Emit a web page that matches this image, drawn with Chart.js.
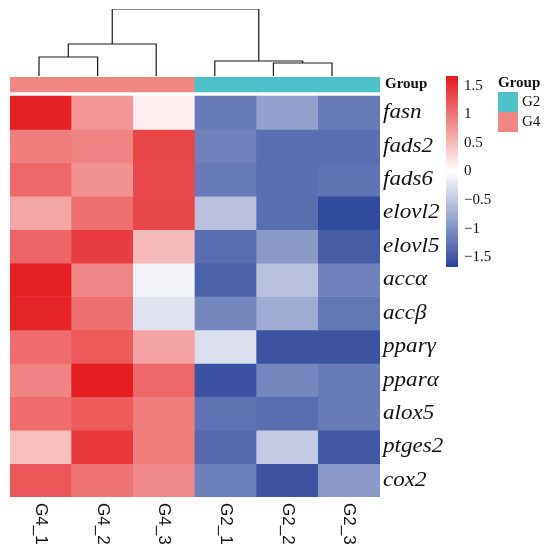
<!DOCTYPE html>
<html>
<head>
<meta charset="utf-8">
<script src="https://cdn.jsdelivr.net/npm/chart.js@4.4.1/dist/chart.umd.min.js"></script>
<style>
  html, body { margin: 0; padding: 0; background: #fff; }
  canvas { display: block; }
</style>
</head>
<body>
<canvas id="heatmap" width="550" height="557"></canvas>
<script>
// samples in dendrogram order, with their group
const samples = ['G4_1', 'G4_2', 'G4_3', 'G2_1', 'G2_2', 'G2_3'];
const sampleGroups = ['G4', 'G4', 'G4', 'G2', 'G2', 'G2'];
const genes = ['fasn', 'fads2', 'fads6', 'elovl2', 'elovl5', 'accα', 'accβ', 'pparγ', 'pparα', 'alox5', 'ptges2', 'cox2'];

// row z-scores, one array per sample column (gene order as above)
const g4_1 = [1.62, 0.95, 1.10, 0.65, 1.12, 1.62, 1.60, 1.07, 0.90, 1.07, 0.47, 1.22];
const g4_2 = [0.77, 0.90, 0.80, 1.05, 1.42, 0.88, 1.05, 1.20, 1.65, 1.20, 1.45, 1.02];
const g4_3 = [0.12, 1.35, 1.33, 1.35, 0.50, -0.10, -0.25, 0.68, 1.10, 0.95, 0.95, 0.85];
const g2_1 = [-1.20, -1.14, -1.20, -0.56, -1.32, -1.43, -1.09, -0.29, -1.56, -1.27, -1.35, -1.15];
const g2_2 = [-0.85, -1.31, -1.31, -1.31, -0.92, -0.56, -0.76, -1.55, -1.09, -1.32, -0.48, -1.54];
const g2_3 = [-1.20, -1.31, -1.27, -1.63, -1.47, -1.14, -1.23, -1.55, -1.20, -1.20, -1.50, -0.92];
const columns = [g4_1, g4_2, g4_3, g2_1, g2_2, g2_3];

// column clustering: pairs joined and the height of each join
const mergePairs = [['G4_1', 'G4_2'], ['m0', 'G4_3'], ['G2_2', 'G2_3'], ['G2_1', 'm2'], ['m1', 'm3']];
const mergeHeights = [1.9, 3.2, 1.3, 1.5, 6.7];

const groupNames = ['G2', 'G4'];
const groupColors = ['#4EC0C7', '#F08784'];
const legendTicks = [1.5, 1, 0.5, 0, -0.5, -1, -1.5];
const colorLimit = 1.67;

const RED = [228, 26, 28];
const BLUE = [45, 70, 155];

function heatColor (v) {
  const t = Math.min(1, Math.abs(v) / colorLimit);
  const end = v >= 0 ? RED : BLUE;
  const c = end.map(e => Math.round(255 + (e - 255) * t));
  return `rgb(${c[0]},${c[1]},${c[2]})`;
}

const datasets = [];

genes.forEach((gene, i) => {
  datasets.push({
    type: 'bar',
    label: gene,
    data: samples.map((s, j) => ({ x: j, y: [11 - i, 12 - i] })),
    backgroundColor: columns.map(col => heatColor(col[i])),
    borderWidth: 0,
    barPercentage: 1,
    categoryPercentage: 1,
    grouped: false
  });
});

datasets.push({
  type: 'bar',
  label: 'Group',
  data: samples.map((s, j) => ({ x: j, y: [12.12, 12.56] })),
  backgroundColor: sampleGroups.map(g => groupColors[groupNames.indexOf(g)]),
  borderWidth: 0,
  barPercentage: 1,
  categoryPercentage: 1,
  grouped: false
});

// dendrogram links as U shaped lines
const nodes = {};
samples.forEach((s, j) => { nodes[s] = { x: j, h: 0 }; });
mergePairs.forEach(([a, b], k) => {
  const h = mergeHeights[k];
  const na = nodes[a];
  const nb = nodes[b];
  datasets.push({
    type: 'line',
    label: 'm' + k,
    xAxisID: 'xd',
    yAxisID: 'yd',
    data: [{ x: na.x, y: na.h }, { x: na.x, y: h }, { x: nb.x, y: h }, { x: nb.x, y: nb.h }],
    borderColor: '#1a1a1a',
    borderWidth: 1.2,
    pointRadius: 0,
    fill: false,
    tension: 0
  });
  nodes['m' + k] = { x: (na.x + nb.x) / 2, h };
});

const rootHeight = Math.max(...mergeHeights);

const labelsPlugin = {
  id: 'heatLabels',
  afterDraw (chart) {
    const { ctx } = chart;
    const x = chart.scales.x;
    const y = chart.scales.y;
    const right = chart.chartArea.right;
    ctx.save();
    ctx.fillStyle = '#111';
    ctx.textAlign = 'left';
    ctx.textBaseline = 'middle';

    // gene labels (the source type is a little wide)
    ctx.font = 'italic 21px "Liberation Serif", serif';
    genes.forEach((g, i) => {
      ctx.save();
      ctx.translate(right + 3, y.getPixelForValue(11.5 - i));
      ctx.scale(1.1, 1);
      ctx.fillText(g, 0, 0);
      ctx.restore();
    });

    ctx.font = 'bold 15px "Liberation Serif", serif';
    ctx.fillText('Group', right + 5, y.getPixelForValue(12.34));

    // sample labels, rotated clockwise
    ctx.font = '17px "Liberation Sans", Arial, sans-serif';
    samples.forEach((s, j) => {
      ctx.save();
      ctx.translate(x.getPixelForValue(j), chart.chartArea.bottom + 6);
      ctx.rotate(Math.PI / 2);
      ctx.fillText(s, 0, 0);
      ctx.restore();
    });

    // colour bar
    const barX = 446;
    const barW = 12;
    const barTop = 76;
    const barBottom = 267;
    const grad = ctx.createLinearGradient(0, barTop, 0, barBottom);
    grad.addColorStop(0, heatColor(colorLimit));
    grad.addColorStop(0.5, '#ffffff');
    grad.addColorStop(1, heatColor(-colorLimit));
    ctx.fillStyle = grad;
    ctx.fillRect(barX, barTop, barW, barBottom - barTop);
    ctx.fillStyle = '#111';
    ctx.font = '15px "Liberation Serif", serif';
    legendTicks.forEach(t => {
      const py = barTop + (colorLimit - t) / (2 * colorLimit) * (barBottom - barTop);
      const txt = t < 0 ? '\u2212' + String(-t) : String(t);
      ctx.fillText(txt, barX + barW + 6, py);
    });

    // group legend
    ctx.font = 'bold 15px "Liberation Serif", serif';
    ctx.fillText('Group', 498, 83);
    ctx.font = '15px "Liberation Serif", serif';
    groupNames.forEach((g, k) => {
      const top = 92 + k * 20;
      ctx.fillStyle = groupColors[k];
      ctx.fillRect(498, top, 20, 20);
      ctx.fillStyle = '#111';
      ctx.fillText(g, 522, top + 10);
    });
    ctx.restore();
  }
};

// eslint-disable-next-line no-undef
const heatmapChart = new Chart('heatmap', {
  data: { datasets },
  options: {
    responsive: false,
    animation: false,
    devicePixelRatio: 1,
    layout: { padding: { left: 10, right: 170, top: 9, bottom: 60 } },
    plugins: {
      legend: { display: false },
      tooltip: { enabled: false }
    },
    scales: {
      x: { type: 'linear', min: -0.5, max: 5.5, offset: false, display: false },
      y: { type: 'linear', min: 0, max: 14.603, display: false },
      xd: { type: 'linear', min: -0.495, max: 5.819, offset: false, display: false },
      yd: { type: 'linear', min: rootHeight - 48.8, max: rootHeight, display: false }
    }
  },
  plugins: [labelsPlugin]
});
</script>
</body>
</html>
